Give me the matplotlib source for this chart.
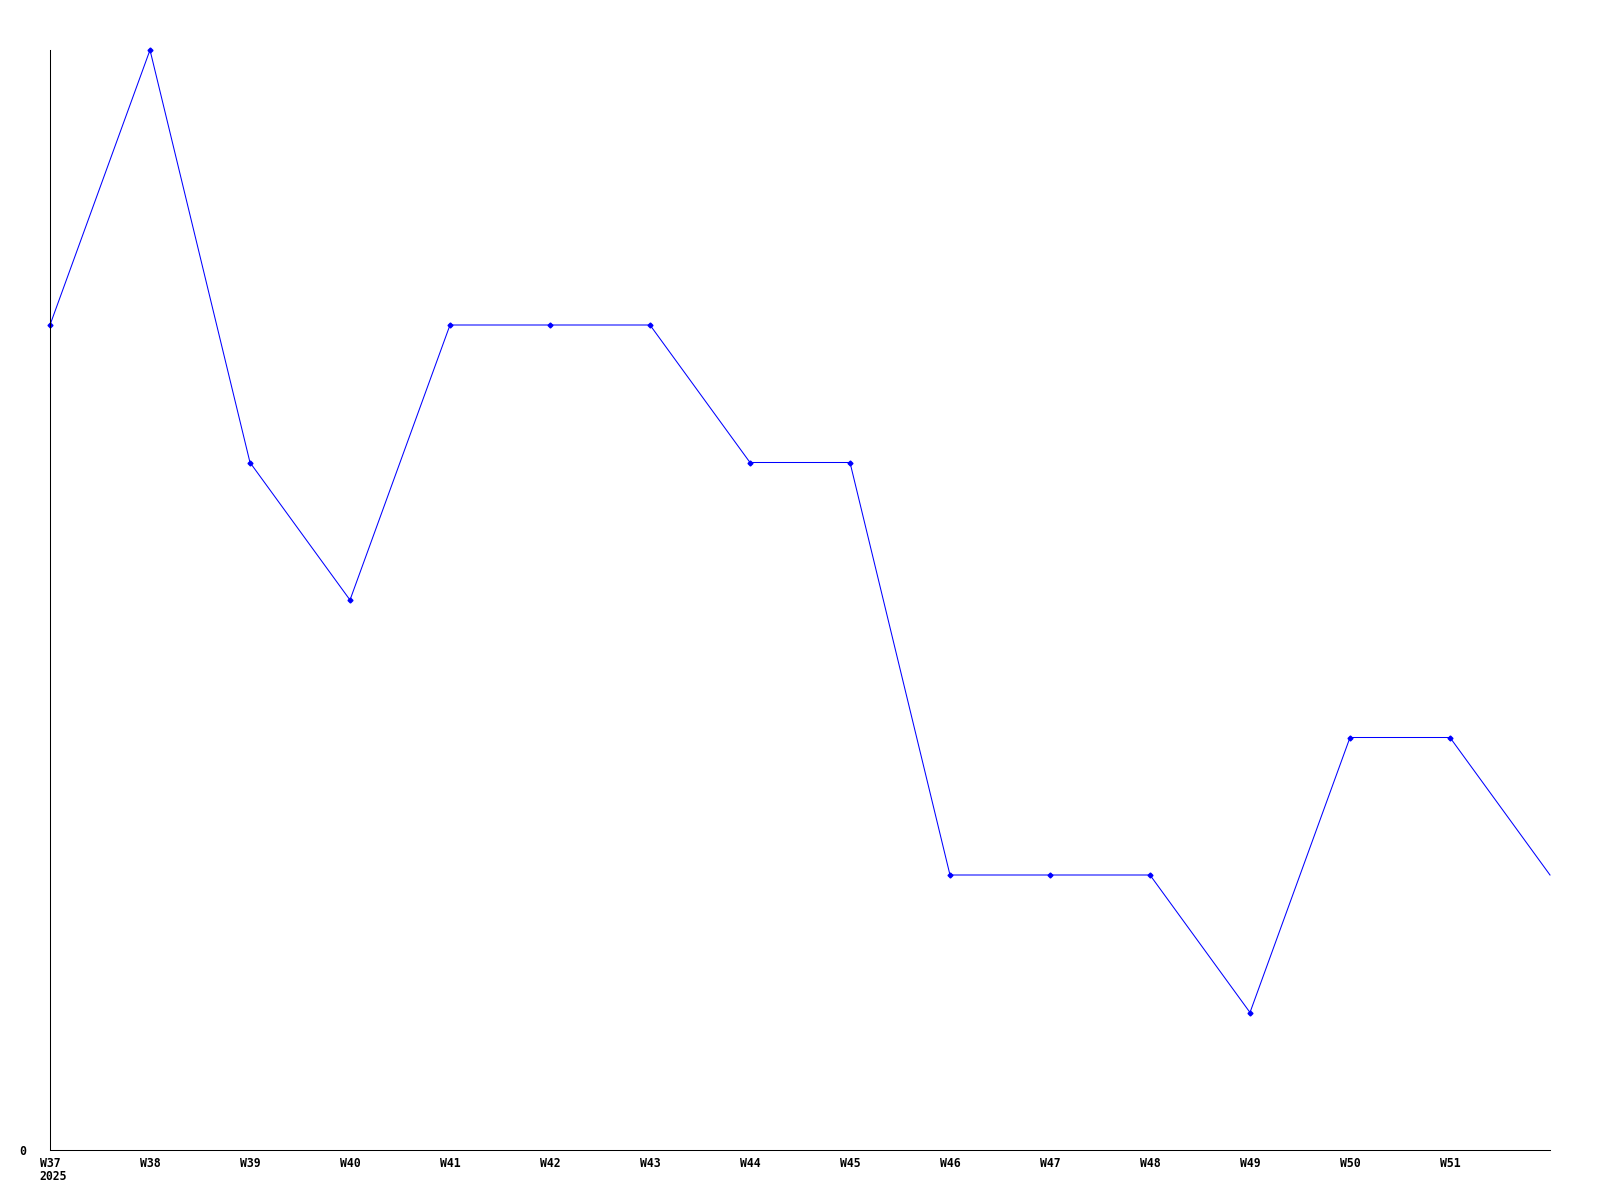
import matplotlib.pyplot as plt
from matplotlib.transforms import blended_transform_factory

weeks = ["W37", "W38", "W39", "W40", "W41", "W42", "W43", "W44",
         "W45", "W46", "W47", "W48", "W49", "W50", "W51", "W52"]
values = [6, 8, 5, 4, 6, 6, 6, 5, 5, 2, 2, 2, 1, 3, 3, 2]
year = "2025"

FONT = dict(family="DejaVu Sans Mono", weight="bold", fontsize=8.3)


def main():
    fig = plt.figure(figsize=(16, 12), dpi=100)
    ax = fig.add_axes([50 / 1600, 50 / 1200, 1500 / 1600, 1100 / 1200])

    x = list(range(len(weeks)))
    ax.plot(x, values, color="#0000ff", linewidth=0.75, marker="D",
            markersize=2.5, markevery=list(range(len(weeks) - 1)),
            clip_on=False)

    ax.set_xlim(0, len(weeks) - 1)
    ax.set_ylim(0, max(values))

    ax.set_xticks(x[:-1])
    ax.set_xticklabels(weeks[:-1], **FONT)
    ax.set_yticks([0])
    ax.set_yticklabels(["0"], **FONT)
    ax.tick_params(axis="x", length=0, pad=5)
    ax.tick_params(axis="y", length=0, pad=17)

    # year under the first week, left edge lined up with "W37"
    trans = blended_transform_factory(ax.transData, ax.transAxes)
    ax.annotate(year, xy=(0, 0), xycoords=trans, xytext=(-10.5, -20),
                textcoords="offset pixels", ha="left", va="top",
                annotation_clip=False, **FONT)

    for side in ("top", "right"):
        ax.spines[side].set_visible(False)
    for side in ("left", "bottom"):
        ax.spines[side].set_linewidth(0.75)

    fig.savefig("out.png", dpi=100, facecolor="white")


if __name__ == "__main__":
    main()
